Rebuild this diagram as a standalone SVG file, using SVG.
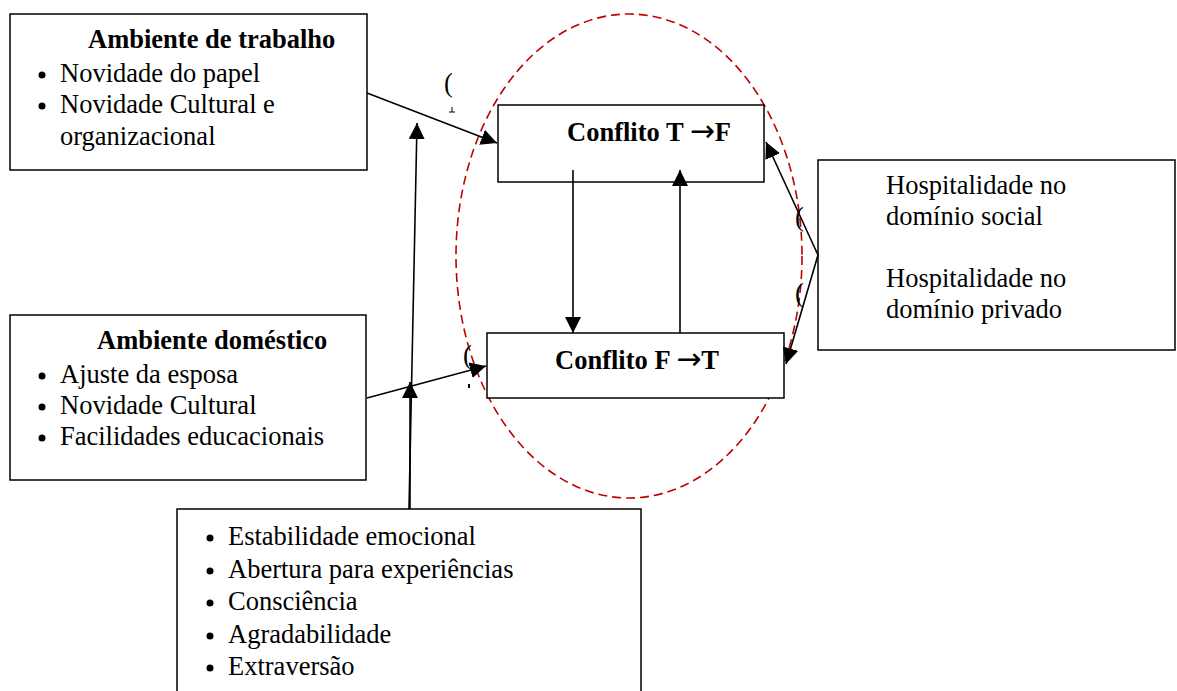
<svg xmlns="http://www.w3.org/2000/svg" width="1177" height="691" viewBox="0 0 1177 691">
<style>
.box{fill:#fff;stroke:#000;stroke-width:1.5}
.t{font-family:"Liberation Serif","Times New Roman",serif;font-size:26.5px;fill:#000}
.b{font-weight:bold}
.arr{font-family:"DejaVu Sans",sans-serif;font-weight:normal;font-size:30px}
.ln{stroke:#000;stroke-width:1.6;fill:none}
</style>
<defs>
<marker id="ahb" viewBox="0 0 10 10" refX="10" refY="5" markerWidth="16" markerHeight="16" markerUnits="userSpaceOnUse" orient="auto">
<path d="M0,0 L10,5 L0,10 z" fill="#000"/>
</marker>
</defs>
<rect width="1177" height="691" fill="#fff"/>
<g id="n-trabalho">
<rect class="box" x="10" y="14" width="357" height="156"/>
<text class="t b" x="88" y="48">Ambiente de trabalho</text>
<circle cx="42" cy="75" r="3.5"/>
<text class="t" x="60" y="82">Novidade do papel</text>
<circle cx="42" cy="106" r="3.5"/>
<text class="t" x="60" y="113">Novidade Cultural e</text>
<text class="t" x="60" y="145">organizacional</text>
</g>
<g id="n-domestico">
<rect class="box" x="10" y="315" width="356" height="165"/>
<text class="t b" x="97" y="349">Ambiente doméstico</text>
<circle cx="42" cy="376" r="3.5"/>
<text class="t" x="60" y="383">Ajuste da esposa</text>
<circle cx="42" cy="407" r="3.5"/>
<text class="t" x="60" y="414">Novidade Cultural</text>
<circle cx="42" cy="438" r="3.5"/>
<text class="t" x="60" y="445">Facilidades educacionais</text>
</g>
<g id="n-ellipse">
<ellipse cx="629" cy="256" rx="173" ry="242" fill="none" stroke="#c00000" stroke-width="1.6" stroke-dasharray="9,5"/>
</g>
<g id="n-tf">
<rect class="box" x="498" y="105" width="266" height="77"/>
<text class="t b" x="567" y="141">Conflito T <tspan class="arr">→</tspan>F</text>
</g>
<g id="n-ft">
<rect class="box" x="487" y="333" width="297" height="65"/>
<text class="t b" x="555" y="369">Conflito F <tspan class="arr">→</tspan>T</text>
</g>
<g id="n-hosp">
<rect class="box" x="818" y="160" width="357" height="190"/>
<text class="t" x="886" y="194">Hospitalidade no</text>
<text class="t" x="886" y="225">domínio social</text>
<text class="t" x="886" y="287">Hospitalidade no</text>
<text class="t" x="886" y="318">domínio privado</text>
</g>
<g id="n-pers">
<rect class="box" x="177" y="509" width="464" height="190"/>
<circle cx="210" cy="538" r="3.5"/>
<text class="t" x="228" y="545">Estabilidade emocional</text>
<circle cx="210" cy="571" r="3.5"/>
<text class="t" x="228" y="578">Abertura para experiências</text>
<circle cx="210" cy="603" r="3.5"/>
<text class="t" x="228" y="610">Consciência</text>
<circle cx="210" cy="636" r="3.5"/>
<text class="t" x="228" y="643">Agradabilidade</text>
<circle cx="210" cy="668" r="3.5"/>
<text class="t" x="228" y="675">Extraversão</text>
</g>
<g id="connectors">
<line class="ln" x1="367" y1="93" x2="497" y2="143" marker-end="url(#ahb)"/>
<line class="ln" x1="367" y1="398" x2="486" y2="366" marker-end="url(#ahb)"/>
<line class="ln" x1="409" y1="509" x2="417" y2="123" marker-end="url(#ahb)"/>
<line class="ln" x1="410" y1="509" x2="410" y2="382" stroke-width="2.2" marker-end="url(#ahb)"/>
<line class="ln" x1="573" y1="170" x2="573" y2="333" marker-end="url(#ahb)"/>
<line class="ln" x1="680" y1="333" x2="680" y2="170" marker-end="url(#ahb)"/>
<line class="ln" x1="818" y1="255" x2="766" y2="142" marker-end="url(#ahb)"/>
<line class="ln" x1="818" y1="255" x2="786" y2="364" marker-end="url(#ahb)"/>
</g>
<g id="marks">
<text class="t" x="444" y="92">(</text>
<text class="t" x="795" y="226" font-size="22">(</text>
<text class="t" x="795" y="302" font-size="22">(</text>
<text class="t" x="463" y="364" font-size="22">(</text>
<path d="M449,112 h6 M452,107 v5" stroke="#000" stroke-width="1"/>
<rect x="468" y="384" width="2" height="4" fill="#000"/>
</g>
</svg>
